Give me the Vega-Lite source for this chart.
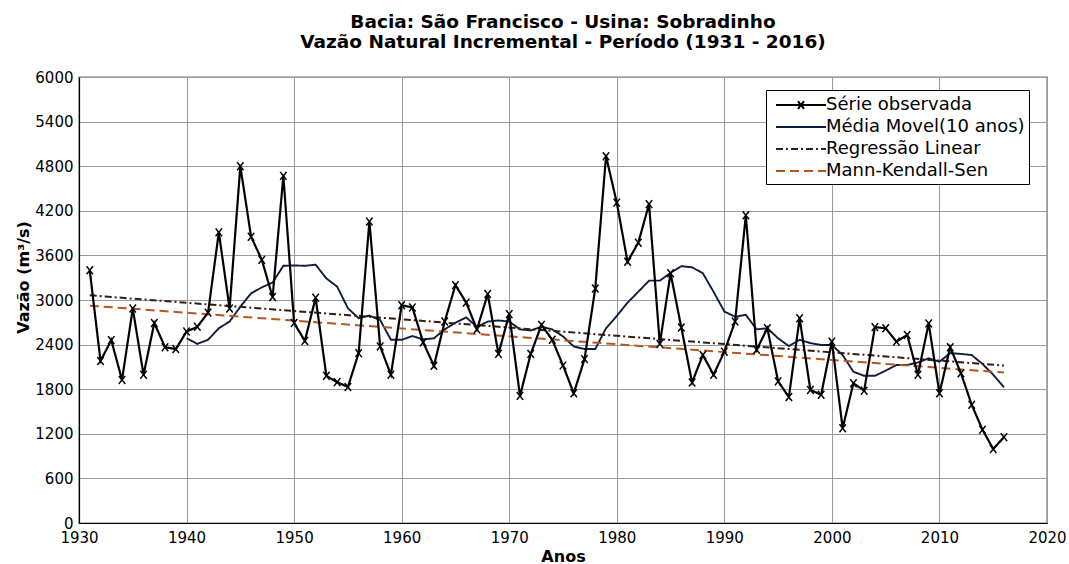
{
  "$schema": "https://vega.github.io/schema/vega-lite/v6.json",
  "autosize": "none",
  "width": 968,
  "height": 446,
  "padding": {"left": 79, "top": 77, "right": 22, "bottom": 41},
  "background": "white",
  "config": {
    "font": "DejaVu Sans",
    "view": {"stroke": "black", "strokeWidth": 1.2},
    "axis": {"labelColor": "black", "titleColor": "black", "gridColor": "#9a9a9a", "gridWidth": 1, "gridOpacity": 1, "domainColor": "black", "domainWidth": 1.2, "ticks": false}
  },
  "title": {
    "text": ["Bacia: São Francisco - Usina: Sobradinho", "Vazão Natural Incremental - Período (1931 - 2016)"],
    "font": "DejaVu Sans", "fontSize": 18.5, "fontWeight": "bold", "color": "black",
    "anchor": "middle", "frame": "group", "lineHeight": 20, "offset": 19
  },
  "data": {"values": [
    {"serie": "Série observada", "ano": 1931, "vazao": 3400},
    {"serie": "Série observada", "ano": 1932, "vazao": 2180},
    {"serie": "Série observada", "ano": 1933, "vazao": 2460},
    {"serie": "Série observada", "ano": 1934, "vazao": 1925},
    {"serie": "Série observada", "ano": 1935, "vazao": 2885},
    {"serie": "Série observada", "ano": 1936, "vazao": 1995},
    {"serie": "Série observada", "ano": 1937, "vazao": 2690},
    {"serie": "Série observada", "ano": 1938, "vazao": 2365},
    {"serie": "Série observada", "ano": 1939, "vazao": 2340},
    {"serie": "Série observada", "ano": 1940, "vazao": 2575},
    {"serie": "Série observada", "ano": 1941, "vazao": 2640},
    {"serie": "Série observada", "ano": 1942, "vazao": 2830},
    {"serie": "Série observada", "ano": 1943, "vazao": 3910},
    {"serie": "Série observada", "ano": 1944, "vazao": 2885},
    {"serie": "Série observada", "ano": 1945, "vazao": 4800},
    {"serie": "Série observada", "ano": 1946, "vazao": 3850},
    {"serie": "Série observada", "ano": 1947, "vazao": 3540},
    {"serie": "Série observada", "ano": 1948, "vazao": 3040},
    {"serie": "Série observada", "ano": 1949, "vazao": 4670},
    {"serie": "Série observada", "ano": 1950, "vazao": 2690},
    {"serie": "Série observada", "ano": 1951, "vazao": 2450},
    {"serie": "Série observada", "ano": 1952, "vazao": 3030},
    {"serie": "Série observada", "ano": 1953, "vazao": 1980},
    {"serie": "Série observada", "ano": 1954, "vazao": 1895},
    {"serie": "Série observada", "ano": 1955, "vazao": 1830},
    {"serie": "Série observada", "ano": 1956, "vazao": 2285},
    {"serie": "Série observada", "ano": 1957, "vazao": 4055},
    {"serie": "Série observada", "ano": 1958, "vazao": 2375},
    {"serie": "Série observada", "ano": 1959, "vazao": 1995},
    {"serie": "Série observada", "ano": 1960, "vazao": 2930},
    {"serie": "Série observada", "ano": 1961, "vazao": 2900},
    {"serie": "Série observada", "ano": 1962, "vazao": 2430},
    {"serie": "Série observada", "ano": 1963, "vazao": 2115},
    {"serie": "Série observada", "ano": 1964, "vazao": 2710},
    {"serie": "Série observada", "ano": 1965, "vazao": 3200},
    {"serie": "Série observada", "ano": 1966, "vazao": 2965},
    {"serie": "Série observada", "ano": 1967, "vazao": 2605},
    {"serie": "Série observada", "ano": 1968, "vazao": 3080},
    {"serie": "Série observada", "ano": 1969, "vazao": 2275},
    {"serie": "Série observada", "ano": 1970, "vazao": 2810},
    {"serie": "Série observada", "ano": 1971, "vazao": 1710},
    {"serie": "Série observada", "ano": 1972, "vazao": 2275},
    {"serie": "Série observada", "ano": 1973, "vazao": 2665},
    {"serie": "Série observada", "ano": 1974, "vazao": 2465},
    {"serie": "Série observada", "ano": 1975, "vazao": 2120},
    {"serie": "Série observada", "ano": 1976, "vazao": 1745},
    {"serie": "Série observada", "ano": 1977, "vazao": 2205},
    {"serie": "Série observada", "ano": 1978, "vazao": 3155},
    {"serie": "Série observada", "ano": 1979, "vazao": 4935},
    {"serie": "Série observada", "ano": 1980, "vazao": 4310},
    {"serie": "Série observada", "ano": 1981, "vazao": 3515},
    {"serie": "Série observada", "ano": 1982, "vazao": 3770},
    {"serie": "Série observada", "ano": 1983, "vazao": 4290},
    {"serie": "Série observada", "ano": 1984, "vazao": 2410},
    {"serie": "Série observada", "ano": 1985, "vazao": 3360},
    {"serie": "Série observada", "ano": 1986, "vazao": 2630},
    {"serie": "Série observada", "ano": 1987, "vazao": 1890},
    {"serie": "Série observada", "ano": 1988, "vazao": 2260},
    {"serie": "Série observada", "ano": 1989, "vazao": 1995},
    {"serie": "Série observada", "ano": 1990, "vazao": 2305},
    {"serie": "Série observada", "ano": 1991, "vazao": 2710},
    {"serie": "Série observada", "ano": 1992, "vazao": 4140},
    {"serie": "Série observada", "ano": 1993, "vazao": 2330},
    {"serie": "Série observada", "ano": 1994, "vazao": 2620},
    {"serie": "Série observada", "ano": 1995, "vazao": 1905},
    {"serie": "Série observada", "ano": 1996, "vazao": 1695},
    {"serie": "Série observada", "ano": 1997, "vazao": 2755},
    {"serie": "Série observada", "ano": 1998, "vazao": 1790},
    {"serie": "Série observada", "ano": 1999, "vazao": 1725},
    {"serie": "Série observada", "ano": 2000, "vazao": 2440},
    {"serie": "Série observada", "ano": 2001, "vazao": 1275},
    {"serie": "Série observada", "ano": 2002, "vazao": 1880},
    {"serie": "Série observada", "ano": 2003, "vazao": 1780},
    {"serie": "Série observada", "ano": 2004, "vazao": 2635},
    {"serie": "Série observada", "ano": 2005, "vazao": 2620},
    {"serie": "Série observada", "ano": 2006, "vazao": 2440},
    {"serie": "Série observada", "ano": 2007, "vazao": 2530},
    {"serie": "Série observada", "ano": 2008, "vazao": 1995},
    {"serie": "Série observada", "ano": 2009, "vazao": 2685},
    {"serie": "Série observada", "ano": 2010, "vazao": 1745},
    {"serie": "Série observada", "ano": 2011, "vazao": 2365},
    {"serie": "Série observada", "ano": 2012, "vazao": 2015},
    {"serie": "Série observada", "ano": 2013, "vazao": 1590},
    {"serie": "Série observada", "ano": 2014, "vazao": 1255},
    {"serie": "Série observada", "ano": 2015, "vazao": 995},
    {"serie": "Série observada", "ano": 2016, "vazao": 1155},
    {"serie": "Média Movel(10 anos)", "ano": 1940, "vazao": 2485},
    {"serie": "Média Movel(10 anos)", "ano": 1941, "vazao": 2410},
    {"serie": "Média Movel(10 anos)", "ano": 1942, "vazao": 2465},
    {"serie": "Média Movel(10 anos)", "ano": 1943, "vazao": 2620},
    {"serie": "Média Movel(10 anos)", "ano": 1944, "vazao": 2710},
    {"serie": "Média Movel(10 anos)", "ano": 1945, "vazao": 2910},
    {"serie": "Média Movel(10 anos)", "ano": 1946, "vazao": 3090},
    {"serie": "Média Movel(10 anos)", "ano": 1947, "vazao": 3170},
    {"serie": "Média Movel(10 anos)", "ano": 1948, "vazao": 3235},
    {"serie": "Média Movel(10 anos)", "ano": 1949, "vazao": 3460},
    {"serie": "Média Movel(10 anos)", "ano": 1950, "vazao": 3465},
    {"serie": "Média Movel(10 anos)", "ano": 1951, "vazao": 3460},
    {"serie": "Média Movel(10 anos)", "ano": 1952, "vazao": 3475},
    {"serie": "Média Movel(10 anos)", "ano": 1953, "vazao": 3290},
    {"serie": "Média Movel(10 anos)", "ano": 1954, "vazao": 3180},
    {"serie": "Média Movel(10 anos)", "ano": 1955, "vazao": 2890},
    {"serie": "Média Movel(10 anos)", "ano": 1956, "vazao": 2755},
    {"serie": "Média Movel(10 anos)", "ano": 1957, "vazao": 2790},
    {"serie": "Média Movel(10 anos)", "ano": 1958, "vazao": 2730},
    {"serie": "Média Movel(10 anos)", "ano": 1959, "vazao": 2465},
    {"serie": "Média Movel(10 anos)", "ano": 1960, "vazao": 2465},
    {"serie": "Média Movel(10 anos)", "ano": 1961, "vazao": 2515},
    {"serie": "Média Movel(10 anos)", "ano": 1962, "vazao": 2470},
    {"serie": "Média Movel(10 anos)", "ano": 1963, "vazao": 2485},
    {"serie": "Média Movel(10 anos)", "ano": 1964, "vazao": 2605},
    {"serie": "Média Movel(10 anos)", "ano": 1965, "vazao": 2695},
    {"serie": "Média Movel(10 anos)", "ano": 1966, "vazao": 2765},
    {"serie": "Média Movel(10 anos)", "ano": 1967, "vazao": 2640},
    {"serie": "Média Movel(10 anos)", "ano": 1968, "vazao": 2710},
    {"serie": "Média Movel(10 anos)", "ano": 1969, "vazao": 2725},
    {"serie": "Média Movel(10 anos)", "ano": 1970, "vazao": 2710},
    {"serie": "Média Movel(10 anos)", "ano": 1971, "vazao": 2605},
    {"serie": "Média Movel(10 anos)", "ano": 1972, "vazao": 2590},
    {"serie": "Média Movel(10 anos)", "ano": 1973, "vazao": 2640},
    {"serie": "Média Movel(10 anos)", "ano": 1974, "vazao": 2605},
    {"serie": "Média Movel(10 anos)", "ano": 1975, "vazao": 2510},
    {"serie": "Média Movel(10 anos)", "ano": 1976, "vazao": 2375},
    {"serie": "Média Movel(10 anos)", "ano": 1977, "vazao": 2340},
    {"serie": "Média Movel(10 anos)", "ano": 1978, "vazao": 2340},
    {"serie": "Média Movel(10 anos)", "ano": 1979, "vazao": 2620},
    {"serie": "Média Movel(10 anos)", "ano": 1980, "vazao": 2785},
    {"serie": "Média Movel(10 anos)", "ano": 1981, "vazao": 2965},
    {"serie": "Média Movel(10 anos)", "ano": 1982, "vazao": 3110},
    {"serie": "Média Movel(10 anos)", "ano": 1983, "vazao": 3260},
    {"serie": "Média Movel(10 anos)", "ano": 1984, "vazao": 3260},
    {"serie": "Média Movel(10 anos)", "ano": 1985, "vazao": 3365},
    {"serie": "Média Movel(10 anos)", "ano": 1986, "vazao": 3455},
    {"serie": "Média Movel(10 anos)", "ano": 1987, "vazao": 3440},
    {"serie": "Média Movel(10 anos)", "ano": 1988, "vazao": 3360},
    {"serie": "Média Movel(10 anos)", "ano": 1989, "vazao": 3110},
    {"serie": "Média Movel(10 anos)", "ano": 1990, "vazao": 2845},
    {"serie": "Média Movel(10 anos)", "ano": 1991, "vazao": 2775},
    {"serie": "Média Movel(10 anos)", "ano": 1992, "vazao": 2800},
    {"serie": "Média Movel(10 anos)", "ano": 1993, "vazao": 2605},
    {"serie": "Média Movel(10 anos)", "ano": 1994, "vazao": 2620},
    {"serie": "Média Movel(10 anos)", "ano": 1995, "vazao": 2485},
    {"serie": "Média Movel(10 anos)", "ano": 1996, "vazao": 2380},
    {"serie": "Média Movel(10 anos)", "ano": 1997, "vazao": 2465},
    {"serie": "Média Movel(10 anos)", "ano": 1998, "vazao": 2420},
    {"serie": "Média Movel(10 anos)", "ano": 1999, "vazao": 2395},
    {"serie": "Média Movel(10 anos)", "ano": 2000, "vazao": 2395},
    {"serie": "Média Movel(10 anos)", "ano": 2001, "vazao": 2260},
    {"serie": "Média Movel(10 anos)", "ano": 2002, "vazao": 2035},
    {"serie": "Média Movel(10 anos)", "ano": 2003, "vazao": 1980},
    {"serie": "Média Movel(10 anos)", "ano": 2004, "vazao": 1980},
    {"serie": "Média Movel(10 anos)", "ano": 2005, "vazao": 2050},
    {"serie": "Média Movel(10 anos)", "ano": 2006, "vazao": 2125},
    {"serie": "Média Movel(10 anos)", "ano": 2007, "vazao": 2125},
    {"serie": "Média Movel(10 anos)", "ano": 2008, "vazao": 2160},
    {"serie": "Média Movel(10 anos)", "ano": 2009, "vazao": 2215},
    {"serie": "Média Movel(10 anos)", "ano": 2010, "vazao": 2170},
    {"serie": "Média Movel(10 anos)", "ano": 2011, "vazao": 2285},
    {"serie": "Média Movel(10 anos)", "ano": 2012, "vazao": 2275},
    {"serie": "Média Movel(10 anos)", "ano": 2013, "vazao": 2260},
    {"serie": "Média Movel(10 anos)", "ano": 2014, "vazao": 2140},
    {"serie": "Média Movel(10 anos)", "ano": 2015, "vazao": 1995},
    {"serie": "Média Movel(10 anos)", "ano": 2016, "vazao": 1825},
    {"serie": "Regressão Linear", "ano": 1931, "vazao": 3063},
    {"serie": "Regressão Linear", "ano": 2016, "vazao": 2118},
    {"serie": "Mann-Kendall-Sen", "ano": 1931, "vazao": 2924},
    {"serie": "Mann-Kendall-Sen", "ano": 2016, "vazao": 2024}
  ]},
  "encoding": {
    "x": {"field": "ano", "type": "quantitative",
      "scale": {"domain": [1930, 2020], "nice": false, "zero": false},
      "axis": {"values": [1930, 1940, 1950, 1960, 1970, 1980, 1990, 2000, 2010, 2020], "format": "d", "labelFontSize": 15, "labelPadding": 7, "labelFlush": false, "title": "Anos", "titleFontSize": 16, "titleFontWeight": "bold", "titleY": 38, "titleBaseline": "alphabetic"}},
    "y": {"field": "vazao", "type": "quantitative",
      "scale": {"domain": [0, 6000], "nice": false},
      "axis": {"values": [0, 600, 1200, 1800, 2400, 3000, 3600, 4200, 4800, 5400, 6000], "format": "d", "labelFontSize": 15, "labelPadding": 6, "title": "Vazão (m³/s)", "titleFontSize": 16, "titleFontWeight": "bold", "titleX": -56, "titleY": 200, "titleBaseline": "middle", "titleAngle": -90}},
    "color": {"field": "serie", "type": "nominal",
      "scale": {"domain": ["Série observada", "Média Movel(10 anos)", "Regressão Linear", "Mann-Kendall-Sen"], "range": ["#000000", "#0f1d3d", "#3a1a10", "#b5561f"]},
      "legend": {"title": null, "orient": "none", "legendX": 687, "legendY": 13, "fillColor": "white", "strokeColor": "black", "padding": 4, "cornerRadius": 0,
        "labelFontSize": 18, "labelFont": "DejaVu Sans", "labelColor": "black", "labelLimit": 400, "labelOffset": 14, "rowPadding": 2,
        "symbolType": "M-2.5,0H2.5", "symbolSize": 400, "symbolOffset": 20, "symbolStrokeWidth": 2,
        "encoding": {"symbols": {"shape": {"condition": {"test": "datum.value === 'Série observada'", "value": "M-2.5,0H2.5M-0.3,-0.38L0.3,0.38M-0.3,0.38L0.3,-0.38"}, "value": "M-2.5,0H2.5"}}}}},
    "strokeDash": {"field": "serie", "type": "nominal",
      "scale": {"domain": ["Série observada", "Média Movel(10 anos)", "Regressão Linear", "Mann-Kendall-Sen"], "range": [[1, 0], [1, 0], [7, 3, 2, 3], [9, 5]]},
      "legend": {"title": null}}
  },
  "layer": [
    {"transform": [{"filter": "datum.serie === 'Média Movel(10 anos)'"}], "mark": {"type": "line", "strokeWidth": 1.9}},
    {"transform": [{"filter": "datum.serie === 'Regressão Linear' || datum.serie === 'Mann-Kendall-Sen'"}], "mark": {"type": "line", "strokeWidth": 2}},
    {"transform": [{"filter": "datum.serie === 'Série observada'"}], "mark": {"type": "line", "strokeWidth": 2.2}},
    {"transform": [{"filter": "datum.serie === 'Série observada'"}],
      "mark": {"type": "point", "shape": "M-0.8,-1L0.8,1M-0.8,1L0.8,-1", "size": 64, "filled": false, "stroke": "black", "strokeWidth": 1.5, "opacity": 1},
      "encoding": {"color": {"value": "black"}, "strokeDash": {"value": [1, 0]}}}
  ]
}
